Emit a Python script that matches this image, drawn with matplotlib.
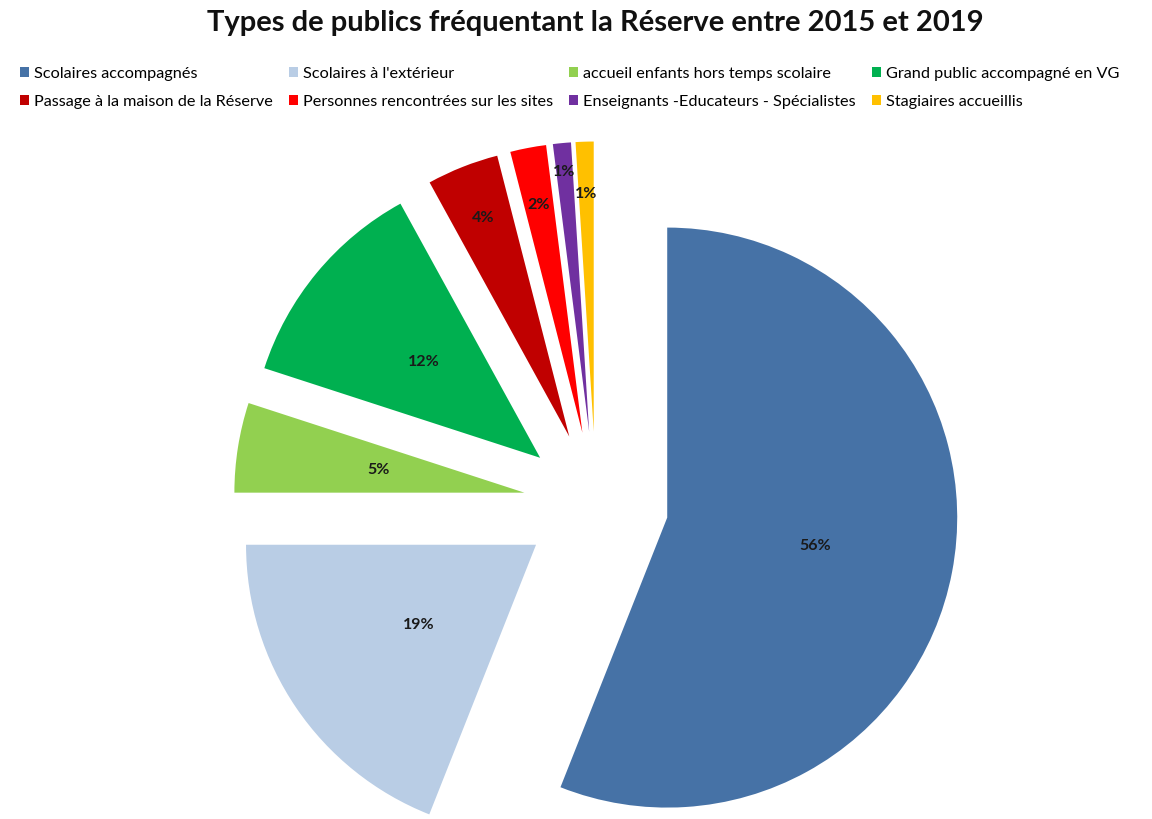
import numpy as np
import matplotlib
matplotlib.use("Agg")
import matplotlib.pyplot as plt
from matplotlib.patches import Patch

# ------------------------------------------
# Data
# ------------------------------------------
categories = [
    "Scolaires accompagnés",
    "Scolaires à l'extérieur",
    "accueil enfants hors temps scolaire",
    "Grand public accompagné en VG",
    "Passage à la maison de la Réserve",
    "Personnes rencontrées sur les sites",
    "Enseignants -Educateurs - Spécialistes",
    "Stagiaires accueillis",
]
shares = [56, 19, 5, 12, 4, 2, 1, 1]
colors = ["#4672A6", "#B9CDE5", "#92D050", "#00B050",
          "#C00000", "#FF0000", "#7030A0", "#FFC000"]

# distance of each % label from its wedge apex (fraction of radius)
label_dist = [0.52, 0.49, 0.51, 0.52, 0.81, 0.80, 0.90, 0.82]

title = "Types de publics fréquentant la Réserve entre 2015 et 2019"

# ------------------------------------------
# Figure
# ------------------------------------------
W, H = 1152, 819
fig = plt.figure(figsize=(W / 100, H / 100), dpi=100)
fig.patch.set_facecolor("white")

ax = fig.add_axes([0, 0, 1, 1])

wedges, _, autotexts = ax.pie(
    shares,
    colors=colors,
    startangle=90,
    counterclock=False,
    explode=[0.25] * len(shares),
    radius=1.0,
    autopct=lambda p: f"{p:.0f}%",
    pctdistance=0.52,
    textprops=dict(family="Lato", fontsize=11.5, fontweight="bold",
                   color="#1a1a1a"),
)

# axes in radius units: 1 unit = 290 px, pie centre at (596, 504) px
R = 290.0
cx, cy = 596.0, H - 504.0
ax.set_xlim(-cx / R, (W - cx) / R)
ax.set_ylim(-cy / R, (H - cy) / R)
ax.set_aspect("equal")
ax.axis("off")

# move labels to per-slice distances
for w, t, d in zip(wedges, autotexts, label_dist):
    ang = np.deg2rad(0.5 * (w.theta1 + w.theta2))
    x0, y0 = w.center
    t.set_position((x0 + d * np.cos(ang), y0 + d * np.sin(ang)))
    t.set_ha("center")
    t.set_va("center")

# ------------------------------------------
# Title + legend
# ------------------------------------------
fig.text(0.517, 1 - 23 / H, title, ha="center", va="center",
         family="Lato", fontsize=21, fontweight="bold", color="#111111")

handles = [Patch(facecolor=c, edgecolor="none") for c in colors]
order = [0, 4, 1, 5, 2, 6, 3, 7]
fig.legend(
    [handles[i] for i in order],
    [categories[i] for i in order],
    ncol=4,
    loc="upper left",
    bbox_to_anchor=(12 / W, 1 - 59 / H),
    frameon=False,
    prop=dict(family="Lato", size=11.7),
    handlelength=0.55,
    handleheight=0.55,
    handletextpad=0.3,
    columnspacing=1.0,
    labelspacing=0.85,
    borderpad=0,
)

fig.savefig("out.png", dpi=100, facecolor="white")
